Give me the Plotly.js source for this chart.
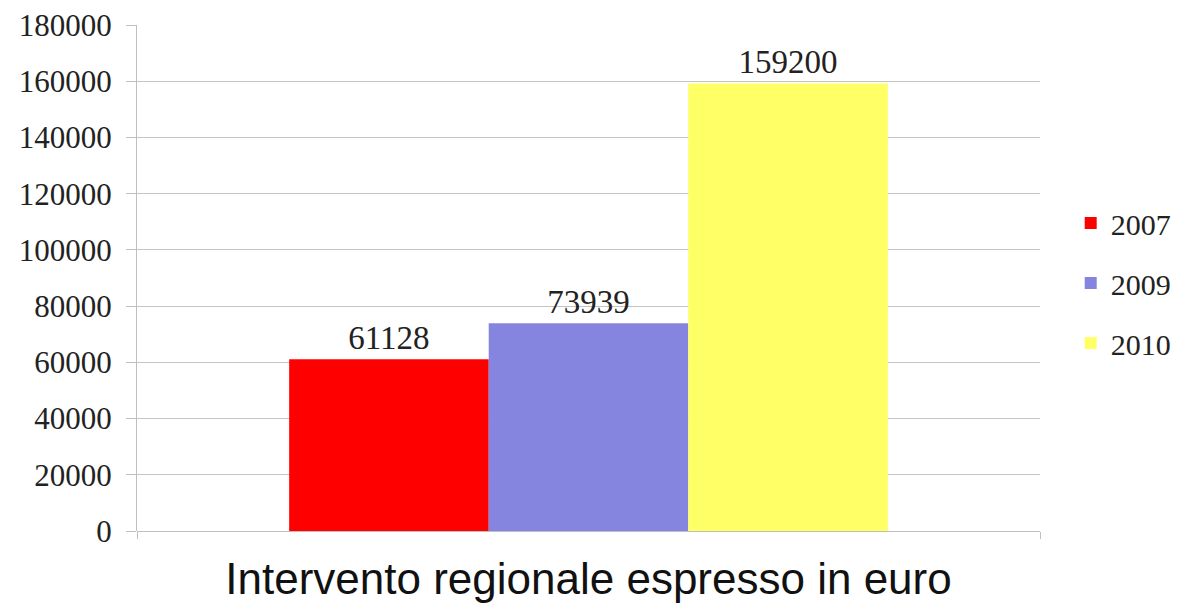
<!DOCTYPE html>
<html>
<head>
<meta charset="utf-8">
<script src="https://cdn.plot.ly/plotly-3.0.1.min.js"></script>
<style>html,body{margin:0;padding:0;background:#fff;}#chart{width:1182px;height:605px;}</style>
</head>
<body>
<div id="chart"></div>
<script>
const category = ["Intervento regionale espresso in euro"];
const seriesNames = ["2007", "2009", "2010"];
const seriesValues = [[61128], [73939], [159200]];
const seriesColors = ["#ff0000", "#8585e0", "#ffff66"];
const yTickVals = [0, 20000, 40000, 60000, 80000, 100000, 120000, 140000, 160000, 180000];

const serif = "Liberation Serif, Times New Roman, serif";
const traces = seriesNames.map((name, i) => ({
  type: "bar",
  name: name,
  legendgroup: "g" + i,
  x: category,
  y: seriesValues[i],
  marker: {color: seriesColors[i], line: {width: 0}},
  text: seriesValues[i].map(String),
  textposition: "outside",
  textfont: {family: serif, size: 33, color: "#222"},
  cliponaxis: false
}));

const layout = {
  width: 1182, height: 605,
  margin: {l: 137, r: 142, t: 25, b: 74, autoexpand: false},
  paper_bgcolor: "#fff", plot_bgcolor: "#fff",
  barmode: "group", bargap: 0.337, bargroupgap: 0,
  showlegend: true,
  legend: {x: 1.034, y: 0.49, xanchor: "left", yanchor: "middle",
    font: {family: serif, size: 30, color: "#222"}, tracegroupgap: 18, itemwidth: 30},
  xaxis: {
    type: "category",
    showticklabels: false,
    ticks: "outside", tickson: "boundaries", ticklen: 7, tickcolor: "#bfbfbf",
    showline: false, showgrid: false, zeroline: false,
    title: {text: category[0], font: {family: "Liberation Sans, Arial, sans-serif", size: 44, color: "#111"}, standoff: 32}
  },
  yaxis: {
    range: [0, 180000], tickvals: yTickVals, tickformat: "d",
    ticks: "outside", ticklen: 10, tickcolor: "#bfbfbf",
    ticklabelstandoff: 8,
    showline: true, linecolor: "#bfbfbf", linewidth: 1,
    showgrid: true, gridcolor: "#c4c4c4", gridwidth: 1,
    zeroline: true, zerolinecolor: "#bfbfbf",
    tickfont: {family: serif, size: 31, color: "#222"}
  }
};
Plotly.newPlot("chart", traces, layout, {displayModeBar: false, staticPlot: true});
</script>
</body>
</html>
